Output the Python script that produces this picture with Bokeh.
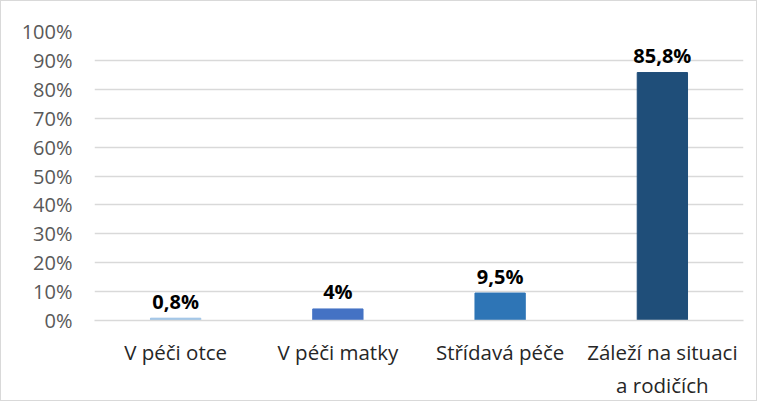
from bokeh.plotting import figure
from bokeh.models import Range1d, FixedTicker, PrintfTickFormatter, ColumnDataSource
from bokeh.core.properties import value
from bokeh.embed import file_html
from bokeh.resources import INLINE

categories = ["V péči otce", "V péči matky", "Střídavá péče", "Záleží na situaci\na rodičích"]
values = [0.8, 4, 9.5, 85.8]
value_labels = ["0,8%", "4%", "9,5%", "85,8%"]
colors = ["#9DC3E6", "#4472C4", "#2E75B6", "#1F4E79"]
y_ticks = [0, 10, 20, 30, 40, 50, 60, 70, 80, 90, 100]

xs = list(range(len(categories)))
src = ColumnDataSource(dict(x=xs, top=values, label=value_labels, color=colors))

p = figure(width=757, height=401, output_backend="svg", toolbar_location=None,
           x_range=Range1d(-0.5, 3.5), y_range=Range1d(0, 100),
           min_border_left=93, min_border_right=15, min_border_top=30, min_border_bottom=76,
           styles={"border": "1px solid #d9d9d9", "box-sizing": "border-box"})
p.outline_line_color = None
p.background_fill_color = "white"
p.border_fill_color = "white"

p.vbar(x="x", top="top", width=0.31, bottom=0, color="color", source=src)
p.text(x="x", y="top", text="label", source=src, text_align="center",
       text_baseline="alphabetic", y_offset=-17, text_font=value("Open Sans"),
       text_font_size="20px", text_font_style="bold", text_color="#000000")

p.xgrid.grid_line_color = None
p.ygrid.grid_line_color = "#d9d9d9"
p.ygrid.grid_line_width = 1.3
p.ygrid.ticker = FixedTicker(ticks=y_ticks)

p.yaxis.ticker = FixedTicker(ticks=y_ticks)
p.yaxis.formatter = PrintfTickFormatter(format="%d%%")
p.yaxis.axis_line_color = None
p.yaxis.major_tick_line_color = None
p.yaxis.minor_tick_line_color = None
p.yaxis.major_tick_out = 0
p.yaxis.major_label_standoff = 22
p.yaxis.major_label_text_font = "Open Sans"
p.yaxis.major_label_text_font_size = "20px"
p.yaxis.major_label_text_color = "#595959"

p.xaxis.ticker = FixedTicker(ticks=xs)
p.xaxis.major_label_overrides = {i: c for i, c in zip(xs, categories)}
p.xaxis.axis_line_color = "#d9d9d9"
p.xaxis.axis_line_width = 1.3
p.xaxis.major_tick_line_color = None
p.xaxis.minor_tick_line_color = None
p.xaxis.major_tick_out = 0
p.xaxis.major_label_standoff = 17
p.xaxis.major_label_text_font = "Open Sans"
p.xaxis.major_label_text_font_size = "20.5px"
p.xaxis.major_label_text_color = "#262626"

open("out.html", "w").write(file_html(p, INLINE))
